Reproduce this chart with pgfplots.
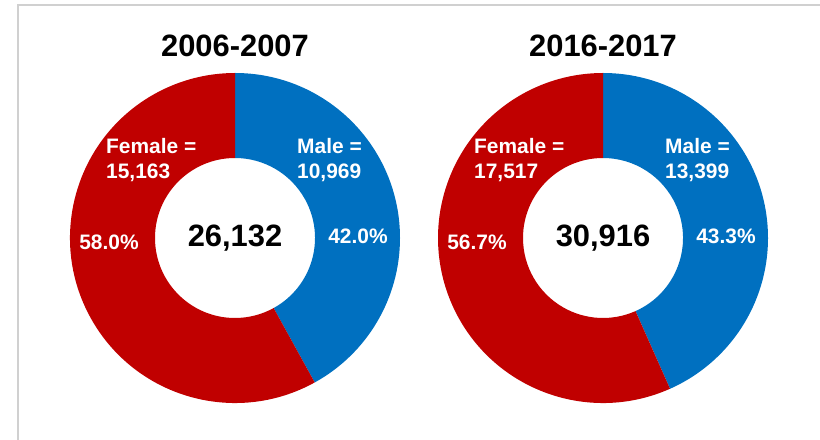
\documentclass[border=0pt]{standalone}
\usepackage{fontspec}
\setmainfont{Liberation Sans}
\usepackage{pgfplots}
\pgfplotsset{compat=1.18}
\usepackage{pgfplotstable}
\usetikzlibrary{calc}

\definecolor{femred}{HTML}{C00000}
\definecolor{maleblue}{HTML}{0070C0}
\definecolor{framegray}{HTML}{D0D0D0}

\pgfplotstableread{
period male female
2006-2007 10969 15163
2016-2017 13399 17517
}\enrol

\pgfkeys{/pgf/number format/.cd, 1000 sep={,}, assume math mode=true}

% one donut per row of the table, centred at (#2 bp, 202 bp)
\newcommand{\donut}[2]{%
  \pgfplotstablegetelem{#1}{period}\of\enrol \edef\per{\pgfplotsretval}%
  \pgfplotstablegetelem{#1}{male}\of\enrol \edef\nM{\pgfplotsretval}%
  \pgfplotstablegetelem{#1}{female}\of\enrol \edef\nF{\pgfplotsretval}%
  \edef\tot{\the\numexpr\nM+\nF\relax}%
  \edef\am{\fpeval{round(360*\nM/\tot,4)}}%
  \edef\pcM{\fpeval{round(100*\nM/\tot,1)}}%
  \edef\pcF{\fpeval{round(100*\nF/\tot,1)}}%
  \begin{axis}[
    at={(#2bp,202bp)}, anchor=center,
    scale only axis, width=330bp, height=330bp,
    xmin=-165, xmax=165, ymin=-165, ymax=165,
    hide axis, clip=false,
  ]
    \fill[maleblue] ($(axis cs:0,0)+(90:165bp)$)
      arc[start angle=90, end angle={90-\am}, radius=165bp]
      -- ($(axis cs:0,0)+({90-\am}:80bp)$)
      arc[start angle={90-\am}, end angle=90, radius=80bp] -- cycle;
    \fill[femred] ($(axis cs:0,0)+({90-\am}:165bp)$)
      arc[start angle={90-\am}, end angle=-270, radius=165bp]
      -- ($(axis cs:0,0)+(-270:80bp)$)
      arc[start angle=-270, end angle={90-\am}, radius=80bp] -- cycle;
    \node[font=\fontsize{31}{37}\selectfont\bfseries] at (axis cs:0,192) {\per};
    \node[font=\fontsize{31}{37}\selectfont\bfseries] at (axis cs:0,0) {\pgfmathprintnumber{\tot}};
    \node[font=\fontsize{21}{25}\selectfont\bfseries, text=white, align=left,
      anchor=west, inner sep=0pt] at (axis cs:62,78) {Male =\\\pgfmathprintnumber{\nM}};
    \node[font=\fontsize{21}{25}\selectfont\bfseries, text=white, align=left,
      anchor=west, inner sep=0pt] at (axis cs:-129,78) {Female =\\\pgfmathprintnumber{\nF}};
    \node[font=\fontsize{21}{25}\selectfont\bfseries, text=white] at (axis cs:123,2)
      {\pgfmathprintnumber[fixed, fixed zerofill, precision=1]{\pcM}\%};
    \node[font=\fontsize{21}{25}\selectfont\bfseries, text=white] at (axis cs:-126,-4)
      {\pgfmathprintnumber[fixed, fixed zerofill, precision=1]{\pcF}\%};
  \end{axis}}

\begin{document}
\begin{tikzpicture}
\useasboundingbox (0,0) rectangle (820bp,440bp);
\draw[framegray, line width=1.2bp] (18bp,-2bp) -- (18bp,435bp) -- (822bp,435bp);
\donut{0}{235}
\donut{1}{603}
\end{tikzpicture}
\end{document}
